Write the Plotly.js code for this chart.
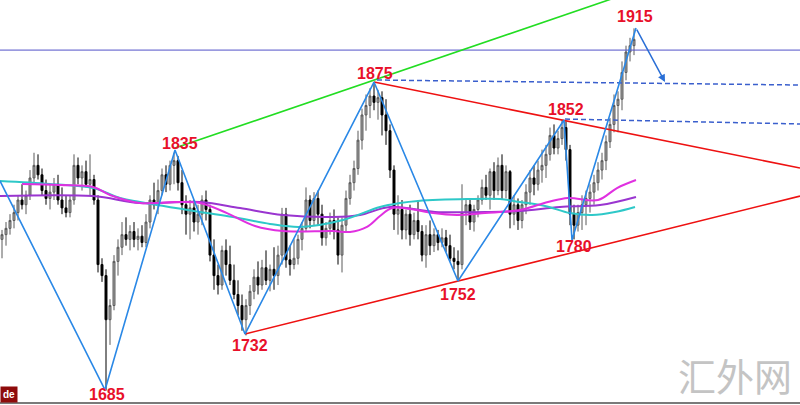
<!DOCTYPE html>
<html>
<head>
<meta charset="utf-8">
<script src="https://cdn.plot.ly/plotly-3.0.1.min.js"></script>
<style>html,body{margin:0;padding:0;background:#fff;}#chart{width:800px;height:405px;}</style>
</head>
<body>
<div id="chart"></div>
<script>
// Candles (bar index, price)
const openP  = [1781,1784,1788,1793,1798,1806,1803,1809,1820,1828,1822,1812,1807,1811,1816,1806,1801,1798,1806,1828,1820,1824,1816,1819,1806,1765,1758,1730,1739,1767,1776,1784,1781,1786,1781,1783,1779,1792,1806,1803,1812,1822,1816,1828,1831,1817,1803,1797,1801,1792,1797,1806,1800,1771,1758,1752,1774,1765,1755,1746,1739,1730,1739,1748,1757,1752,1763,1755,1762,1758,1771,1797,1768,1765,1769,1781,1788,1806,1793,1807,1797,1782,1788,1793,1787,1771,1790,1807,1817,1826,1844,1860,1866,1872,1868,1871,1860,1850,1825,1797,1800,1787,1797,1784,1793,1786,1771,1784,1777,1784,1779,1782,1777,1769,1767,1765,1798,1803,1792,1800,1806,1814,1809,1824,1812,1828,1812,1824,1797,1803,1793,1803,1811,1820,1816,1825,1828,1835,1847,1839,1845,1852,1838,1797,1790,1798,1803,1807,1811,1817,1825,1831,1843,1854,1866,1870,1887,1900,1904];
const highP  = [1787,1792,1797,1803,1809,1816,1812,1825,1836,1835,1826,1819,1816,1820,1822,1814,1809,1809,1835,1833,1828,1831,1835,1822,1809,1769,1762,1743,1771,1781,1792,1795,1790,1792,1788,1790,1797,1809,1817,1819,1826,1828,1831,1836,1834,1825,1809,1806,1806,1803,1809,1812,1803,1781,1765,1777,1781,1777,1765,1755,1746,1743,1752,1762,1767,1768,1774,1765,1776,1777,1801,1801,1777,1781,1784,1792,1814,1809,1811,1812,1803,1792,1798,1800,1795,1795,1812,1822,1831,1850,1864,1873,1877,1881,1876,1875,1870,1854,1828,1809,1806,1800,1803,1798,1806,1790,1790,1793,1788,1787,1788,1787,1784,1776,1774,1816,1807,1806,1803,1809,1819,1822,1826,1830,1833,1835,1828,1825,1809,1807,1806,1816,1825,1828,1831,1838,1841,1852,1854,1850,1857,1856,1841,1803,1803,1809,1812,1816,1822,1830,1836,1847,1858,1873,1875,1894,1904,1909,1915];
const lowP   = [1769,1777,1784,1788,1793,1800,1797,1806,1816,1819,1809,1803,1800,1806,1803,1797,1795,1795,1803,1816,1812,1814,1809,1803,1760,1754,1685,1714,1736,1758,1771,1777,1774,1776,1774,1776,1776,1788,1800,1797,1809,1811,1812,1816,1812,1797,1784,1781,1786,1784,1790,1793,1767,1749,1746,1749,1758,1752,1743,1733,1723,1720,1733,1743,1746,1749,1752,1748,1749,1752,1765,1763,1758,1762,1765,1774,1786,1788,1790,1790,1777,1777,1784,1781,1765,1760,1786,1803,1812,1822,1838,1850,1858,1863,1857,1847,1841,1820,1787,1784,1781,1781,1777,1781,1781,1767,1763,1771,1773,1774,1776,1773,1767,1762,1755,1762,1790,1787,1786,1795,1803,1806,1800,1806,1809,1806,1807,1788,1790,1787,1788,1797,1803,1809,1812,1817,1820,1831,1835,1835,1841,1831,1790,1781,1786,1787,1790,1798,1803,1812,1819,1825,1839,1849,1849,1863,1882,1894,1898];
const closeP = [1784,1788,1793,1798,1806,1803,1809,1820,1828,1822,1812,1807,1811,1816,1806,1801,1798,1806,1828,1820,1824,1816,1819,1806,1765,1758,1730,1739,1767,1776,1784,1781,1786,1781,1783,1779,1792,1806,1803,1812,1822,1816,1828,1831,1817,1803,1797,1801,1792,1797,1806,1800,1771,1758,1752,1774,1765,1755,1746,1739,1730,1739,1748,1757,1752,1763,1755,1762,1758,1771,1797,1768,1765,1769,1781,1788,1806,1793,1807,1797,1782,1788,1793,1787,1771,1790,1807,1817,1826,1844,1860,1866,1872,1868,1871,1860,1850,1825,1797,1800,1787,1797,1784,1793,1786,1771,1784,1777,1784,1779,1782,1777,1769,1767,1765,1798,1803,1792,1800,1806,1814,1809,1824,1812,1828,1812,1824,1797,1803,1793,1803,1811,1820,1816,1825,1828,1835,1847,1839,1845,1852,1838,1797,1790,1798,1803,1807,1811,1817,1825,1831,1843,1854,1866,1870,1887,1900,1904,1908];

// Moving averages, read at points (bar index, price)
const maCyanX = [-0.5,12,22.75,29.5,34.5,49.5,57.75,67,74.5,85.25,94.5,99.5,104,116.25,124.5,129.5,135.75,142,147.5,153.25,158.25];
const maCyanY = [1818.1,1816.2,1813.6,1807.3,1804.7,1798.4,1795.2,1790.8,1788.9,1793.3,1801.6,1804.1,1805.4,1806.6,1806.6,1804.7,1802.2,1797.7,1796.5,1798.4,1801.6];
const maMagX = [5,14.5,22.75,27,34.5,43.25,49.5,56.25,63.25,70.25,82.75,87,91.25,94.5,97.5,102,107.75,113.75,120.75,129.5,136.5,141.5,149,153.75,158.5];
const maMagY = [1816.2,1815.5,1814.3,1809.2,1804.1,1804.7,1804.1,1797.7,1789.5,1786.3,1786.3,1785.7,1788.9,1795.8,1800.9,1800.3,1797.7,1796.5,1797.7,1799.7,1804.7,1807.3,1806.0,1813.6,1818.7];
const maPurX = [-0.5,22.75,34.5,49.5,59.5,70.25,82.75,89.5,97,108.25,120.75,129.5,139.5,149.5,158.5];
const maPurY = [1808.5,1808.5,1804.1,1804.7,1800.9,1796.5,1795.2,1796.5,1801.6,1798.4,1798.4,1799.0,1801.6,1802.8,1807.9];

// Zigzag swing points
const zigX = [-0.5,25.75,43.25,60.75,93,114,140.5,142.5,158.5];
const zigY = [1818.1,1685.4,1837.8,1720.9,1880.9,1754.6,1856.8,1780.6,1915.2];
const arrowFrom = [158.5,1915.2];
const arrowTo   = [165.75,1880.9];

// Trend lines
const greenX = [43.25,154.5], greenY = [1839.0,1935.5];
const redUpX = [93,199.5],    redUpY = [1880.9,1826.3];
const redLoX = [60.75,199.5], redLoY = [1720.9,1808.5];
const dash1X = [93.75,199.5], dash1Y = [1882.2,1879.0];
const dash2X = [140.75,199.5],dash2Y = [1857.4,1854.3];
const hLineX = [-0.5,199.5],  hLineY = [1901.2,1901.2];

// Swing labels
const labelText = ['1685','1732','1752','1780','1835','1875','1852','1915'];
const labelX = [26.25,62,114,143,44.5,93.25,141,158.25];
const labelY = [1682.2,1713.3,1745.7,1776.2,1841.6,1886.6,1863.2,1922.8];

const idx = openP.map((_, i) => i);

const traces = [
  {type:'scatter',mode:'lines',x:hLineX,y:hLineY,line:{color:'#5252c8',width:1},hoverinfo:'skip'},
  {type:'scatter',mode:'lines',x:maPurX,y:maPurY,line:{color:'#9a35d0',width:2,shape:'spline'},hoverinfo:'skip'},
  {type:'scatter',mode:'lines',x:maCyanX,y:maCyanY,line:{color:'#2ec8c8',width:2,shape:'spline'},hoverinfo:'skip'},
  {type:'scatter',mode:'lines',x:maMagX,y:maMagY,line:{color:'#e030e0',width:2,shape:'spline'},hoverinfo:'skip'},
  {type:'candlestick',x:idx,open:openP,high:highP,low:lowP,close:closeP,
   increasing:{line:{color:'#5a5a5a',width:1},fillcolor:'#a8a8a8'},
   decreasing:{line:{color:'#000000',width:1},fillcolor:'#000000'},
   whiskerwidth:0,hoverinfo:'skip'},
  {type:'scatter',mode:'lines',x:greenX,y:greenY,line:{color:'#22dd22',width:1.6},hoverinfo:'skip'},
  {type:'scatter',mode:'lines',x:redUpX,y:redUpY,line:{color:'#ee1111',width:1.6},hoverinfo:'skip'},
  {type:'scatter',mode:'lines',x:redLoX,y:redLoY,line:{color:'#ee1111',width:1.6},hoverinfo:'skip'},
  {type:'scatter',mode:'lines',x:dash1X,y:dash1Y,line:{color:'#3a5fcd',width:1.5,dash:'5px,3px'},hoverinfo:'skip'},
  {type:'scatter',mode:'lines',x:dash2X,y:dash2Y,line:{color:'#3a5fcd',width:1.5,dash:'5px,3px'},hoverinfo:'skip'},
  {type:'scatter',mode:'lines',x:zigX,y:zigY,line:{color:'#2a88e6',width:1.6},hoverinfo:'skip'}
];

const annotations = labelText.map((t, i) => ({
  x: labelX[i], y: labelY[i], xref:'x', yref:'y', text:'<b>'+t+'</b>', showarrow:false,
  xanchor:'center', yanchor:'middle',
  font:{family:'Liberation Sans, Arial, sans-serif', size:16, color:'#e8102a'}
}));
annotations.push({
  x: arrowTo[0], y: arrowTo[1], ax: arrowFrom[0], ay: arrowFrom[1], xref:'x', yref:'y', axref:'x', ayref:'y',
  text:'', showarrow:true, arrowhead:2, arrowsize:1, arrowwidth:1.5, arrowcolor:'#2a6fd6'
});
annotations.push({
  x: 0.919, y: 1694.9, xref:'paper', yref:'y', text:'汇外网', showarrow:false,
  xanchor:'center', yanchor:'middle',
  font:{family:'Noto Sans CJK SC, sans-serif', size:38, color:'#c4c4c4'}
});
annotations.push({
  x: 0, y: 1682.2, xref:'paper', yref:'y', text:'<b>de</b>', showarrow:false,
  xanchor:'left', yanchor:'middle', bgcolor:'#8e0b0b', borderpad:2,
  font:{family:'Liberation Sans, Arial, sans-serif', size:10, color:'#ffffff'}
});

const layout = {
  width:800, height:405,
  margin:{l:0,r:0,t:0,b:2,pad:0},
  paper_bgcolor:'#ffffff', plot_bgcolor:'#ffffff',
  showlegend:false,
  xaxis:{range:[-0.5,199.5],visible:false,rangeslider:{visible:false},fixedrange:true},
  yaxis:{range:[1677.1,1933],visible:false,fixedrange:true},
  annotations:annotations,
  shapes:[{type:'line',xref:'paper',yref:'paper',x0:0,x1:1,y0:0,y1:0,line:{color:'#7a7a7a',width:2}}],
  hovermode:false
};

Plotly.newPlot('chart', traces, layout, {staticPlot:true, displayModeBar:false});
</script>
</body>
</html>
